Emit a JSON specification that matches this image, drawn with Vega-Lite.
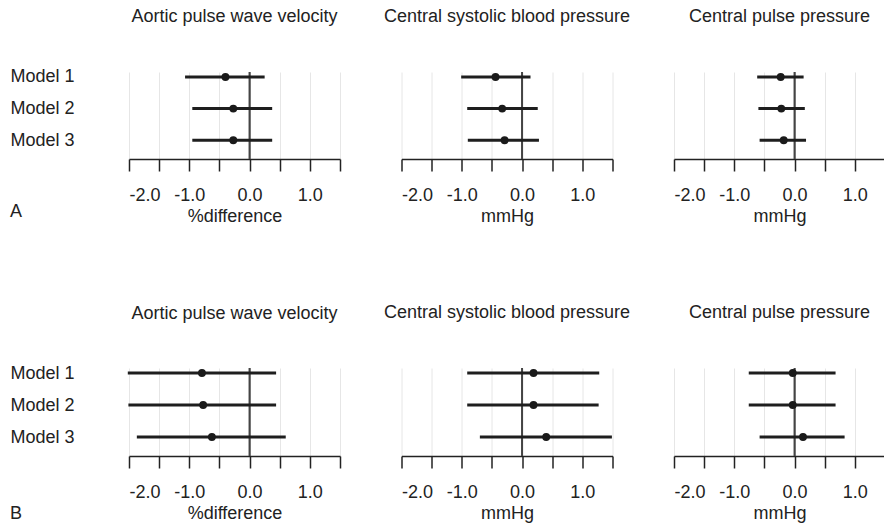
{
  "$schema": "https://vega.github.io/schema/vega-lite/v6.json",
  "padding": {"left": 9, "top": 8, "right": 0, "bottom": 0},
  "config": {
    "font": "Liberation Sans",
    "view": {"stroke": null},
    "title": {"fontSize": 18, "fontWeight": "normal", "color": "#222", "anchor": "middle", "frame": "group", "offset": 45},
    "axisX": {
      "values": [-2, -1.5, -1, -0.5, 0, 0.5, 1, 1.5],
      "labelExpr": "datum.value % 1 === 0 ? (datum.value < 0 ? '-' : '') + format(abs(datum.value), '.1f') : ''",
      "tickSize": 12, "tickWidth": 1.5, "tickColor": "#222",
      "domainColor": "#222", "domainWidth": 1.5,
      "labelFontSize": 18, "labelColor": "#222", "labelPadding": 15,
      "titleFontSize": 18, "titleFontWeight": "normal", "titleColor": "#222", "titlePadding": 3,
      "grid": true, "gridColor": "#e6e6e6", "gridWidth": 1
    },
    "axisY": {"domain": false, "ticks": false, "grid": false, "labelFontSize": 18, "labelColor": "#222", "labelPadding": 55, "title": null}
  },
  "data": {"values": [
    {"section": "A", "outcome": "pwv", "model": "Model 1", "est": -0.40, "lo": -1.07, "hi": 0.25},
    {"section": "A", "outcome": "pwv", "model": "Model 2", "est": -0.27, "lo": -0.95, "hi": 0.375},
    {"section": "A", "outcome": "pwv", "model": "Model 3", "est": -0.27, "lo": -0.95, "hi": 0.375},
    {"section": "A", "outcome": "sbp", "model": "Model 1", "est": -0.44, "lo": -1.01, "hi": 0.14},
    {"section": "A", "outcome": "sbp", "model": "Model 2", "est": -0.33, "lo": -0.91, "hi": 0.26},
    {"section": "A", "outcome": "sbp", "model": "Model 3", "est": -0.29, "lo": -0.90, "hi": 0.28},
    {"section": "A", "outcome": "pp", "model": "Model 1", "est": -0.23, "lo": -0.62, "hi": 0.15},
    {"section": "A", "outcome": "pp", "model": "Model 2", "est": -0.22, "lo": -0.60, "hi": 0.17},
    {"section": "A", "outcome": "pp", "model": "Model 3", "est": -0.18, "lo": -0.58, "hi": 0.19},
    {"section": "B", "outcome": "pwv", "model": "Model 1", "est": -0.79, "lo": -2.02, "hi": 0.44},
    {"section": "B", "outcome": "pwv", "model": "Model 2", "est": -0.77, "lo": -2.01, "hi": 0.44},
    {"section": "B", "outcome": "pwv", "model": "Model 3", "est": -0.625, "lo": -1.87, "hi": 0.60},
    {"section": "B", "outcome": "sbp", "model": "Model 1", "est": 0.19, "lo": -0.91, "hi": 1.28},
    {"section": "B", "outcome": "sbp", "model": "Model 2", "est": 0.19, "lo": -0.91, "hi": 1.27},
    {"section": "B", "outcome": "sbp", "model": "Model 3", "est": 0.40, "lo": -0.70, "hi": 1.49},
    {"section": "B", "outcome": "pp", "model": "Model 1", "est": -0.03, "lo": -0.76, "hi": 0.68},
    {"section": "B", "outcome": "pp", "model": "Model 2", "est": -0.03, "lo": -0.76, "hi": 0.68},
    {"section": "B", "outcome": "pp", "model": "Model 3", "est": 0.14, "lo": -0.58, "hi": 0.83}
  ]},
  "spacing": 79,
  "vconcat": [
    {
      "title": {"text": "A", "orient": "bottom", "anchor": "start", "frame": "bounds", "offset": -22},
      "bounds": "flush",
      "spacing": 61.5,
      "hconcat": [
        {
          "title": {"text": "Aortic pulse wave velocity", "offset": 41.5}, "width": 211, "height": 87,
          "transform": [{"filter": "datum.section === 'A' && datum.outcome === 'pwv'"}],
          "layer": [
            {"mark": {"type": "rule", "color": "#444", "strokeWidth": 1.5}, "encoding": {"x": {"datum": 0, "type": "quantitative", "title": "%difference", "scale": {"domain": [-2, 1.5], "nice": false, "zero": false}}}},
            {"mark": {"type": "rule", "color": "#1e1e1e", "strokeWidth": 3}, "encoding": {
              "y": {"field": "model", "type": "nominal", "scale": {"type": "point", "padding": 0.375, "align": 0.21, "domain": ["Model 1", "Model 2", "Model 3"]}},
              "x": {"field": "lo", "type": "quantitative", "title": "%difference"}, "x2": {"field": "hi"}}},
            {"mark": {"type": "point", "filled": true, "color": "#1a1a1a", "opacity": 1, "size": 62}, "encoding": {
              "y": {"field": "model", "type": "nominal"},
              "x": {"field": "est", "type": "quantitative", "title": "%difference"}}}
          ]
        },
        {
          "title": "Central systolic blood pressure", "width": 211, "height": 87,
          "transform": [{"filter": "datum.section === 'A' && datum.outcome === 'sbp'"}],
          "layer": [
            {"mark": {"type": "rule", "color": "#444", "strokeWidth": 1.5}, "encoding": {"x": {"datum": 0, "type": "quantitative", "title": "mmHg", "scale": {"domain": [-2, 1.5], "nice": false, "zero": false}}}},
            {"mark": {"type": "rule", "color": "#1e1e1e", "strokeWidth": 3}, "encoding": {
              "y": {"field": "model", "type": "nominal", "axis": null, "scale": {"type": "point", "padding": 0.375, "align": 0.21, "domain": ["Model 1", "Model 2", "Model 3"]}},
              "x": {"field": "lo", "type": "quantitative", "title": "mmHg"}, "x2": {"field": "hi"}}},
            {"mark": {"type": "point", "filled": true, "color": "#1a1a1a", "opacity": 1, "size": 62}, "encoding": {
              "y": {"field": "model", "type": "nominal", "axis": null},
              "x": {"field": "est", "type": "quantitative", "title": "mmHg"}}}
          ]
        },
        {
          "title": "Central pulse pressure", "width": 211, "height": 87,
          "transform": [{"filter": "datum.section === 'A' && datum.outcome === 'pp'"}],
          "layer": [
            {"mark": {"type": "rule", "color": "#444", "strokeWidth": 1.5}, "encoding": {"x": {"datum": 0, "type": "quantitative", "title": "mmHg", "scale": {"domain": [-2, 1.5], "nice": false, "zero": false}}}},
            {"mark": {"type": "rule", "color": "#1e1e1e", "strokeWidth": 3}, "encoding": {
              "y": {"field": "model", "type": "nominal", "axis": null, "scale": {"type": "point", "padding": 0.375, "align": 0.21, "domain": ["Model 1", "Model 2", "Model 3"]}},
              "x": {"field": "lo", "type": "quantitative", "title": "mmHg"}, "x2": {"field": "hi"}}},
            {"mark": {"type": "point", "filled": true, "color": "#1a1a1a", "opacity": 1, "size": 62}, "encoding": {
              "y": {"field": "model", "type": "nominal", "axis": null},
              "x": {"field": "est", "type": "quantitative", "title": "mmHg"}}}
          ]
        }
      ]
    },
    {
      "title": {"text": "B", "orient": "bottom", "anchor": "start", "frame": "bounds", "offset": -17},
      "bounds": "flush",
      "spacing": 61.5,
      "hconcat": [
        {
          "title": {"text": "Aortic pulse wave velocity", "offset": 41.5}, "width": 211, "height": 88,
          "transform": [{"filter": "datum.section === 'B' && datum.outcome === 'pwv'"}],
          "layer": [
            {"mark": {"type": "rule", "color": "#444", "strokeWidth": 1.5}, "encoding": {"x": {"datum": 0, "type": "quantitative", "title": "%difference", "scale": {"domain": [-2, 1.5], "nice": false, "zero": false}}}},
            {"mark": {"type": "rule", "color": "#1e1e1e", "strokeWidth": 3}, "encoding": {
              "y": {"field": "model", "type": "nominal", "scale": {"type": "point", "padding": 0.375, "align": 0.21, "domain": ["Model 1", "Model 2", "Model 3"]}},
              "x": {"field": "lo", "type": "quantitative", "title": "%difference"}, "x2": {"field": "hi"}}},
            {"mark": {"type": "point", "filled": true, "color": "#1a1a1a", "opacity": 1, "size": 62}, "encoding": {
              "y": {"field": "model", "type": "nominal"},
              "x": {"field": "est", "type": "quantitative", "title": "%difference"}}}
          ]
        },
        {
          "title": "Central systolic blood pressure", "width": 211, "height": 88,
          "transform": [{"filter": "datum.section === 'B' && datum.outcome === 'sbp'"}],
          "layer": [
            {"mark": {"type": "rule", "color": "#444", "strokeWidth": 1.5}, "encoding": {"x": {"datum": 0, "type": "quantitative", "title": "mmHg", "scale": {"domain": [-2, 1.5], "nice": false, "zero": false}}}},
            {"mark": {"type": "rule", "color": "#1e1e1e", "strokeWidth": 3}, "encoding": {
              "y": {"field": "model", "type": "nominal", "axis": null, "scale": {"type": "point", "padding": 0.375, "align": 0.21, "domain": ["Model 1", "Model 2", "Model 3"]}},
              "x": {"field": "lo", "type": "quantitative", "title": "mmHg"}, "x2": {"field": "hi"}}},
            {"mark": {"type": "point", "filled": true, "color": "#1a1a1a", "opacity": 1, "size": 62}, "encoding": {
              "y": {"field": "model", "type": "nominal", "axis": null},
              "x": {"field": "est", "type": "quantitative", "title": "mmHg"}}}
          ]
        },
        {
          "title": "Central pulse pressure", "width": 211, "height": 88,
          "transform": [{"filter": "datum.section === 'B' && datum.outcome === 'pp'"}],
          "layer": [
            {"mark": {"type": "rule", "color": "#444", "strokeWidth": 1.5}, "encoding": {"x": {"datum": 0, "type": "quantitative", "title": "mmHg", "scale": {"domain": [-2, 1.5], "nice": false, "zero": false}}}},
            {"mark": {"type": "rule", "color": "#1e1e1e", "strokeWidth": 3}, "encoding": {
              "y": {"field": "model", "type": "nominal", "axis": null, "scale": {"type": "point", "padding": 0.375, "align": 0.21, "domain": ["Model 1", "Model 2", "Model 3"]}},
              "x": {"field": "lo", "type": "quantitative", "title": "mmHg"}, "x2": {"field": "hi"}}},
            {"mark": {"type": "point", "filled": true, "color": "#1a1a1a", "opacity": 1, "size": 62}, "encoding": {
              "y": {"field": "model", "type": "nominal", "axis": null},
              "x": {"field": "est", "type": "quantitative", "title": "mmHg"}}}
          ]
        }
      ]
    }
  ]
}
